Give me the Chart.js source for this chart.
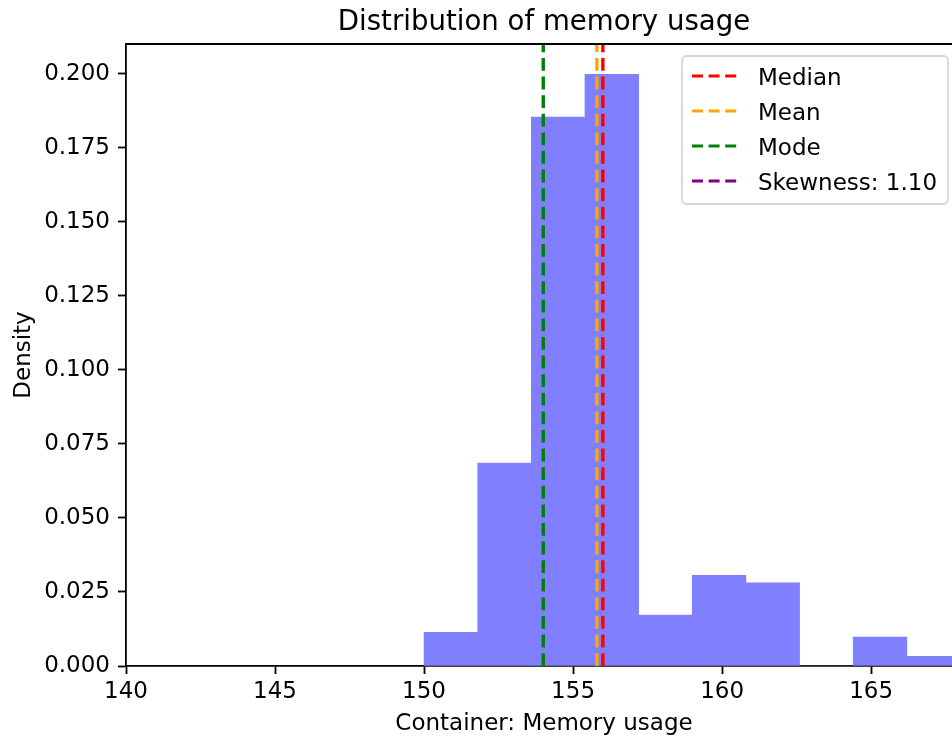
<!DOCTYPE html>
<html>
<head>
<meta charset="utf-8">
<title>Distribution of memory usage</title>
<script src="https://cdn.jsdelivr.net/npm/chart.js@4/dist/chart.umd.min.js"></script>
<style>
  html, body { margin: 0; padding: 0; background: #fff; overflow: hidden; }
  /* the reference is cropped on the right, so the plot runs a little past the window */
  #wrap { width: 962px; height: 740px; position: relative; }
</style>
</head>
<body>
<div id="wrap"><canvas id="histChart"></canvas></div>
<script>
// --- values ---
const binEdges = [150.0, 151.8, 153.6, 155.4, 157.2, 159.0, 160.8, 162.6, 164.4, 166.2, 168.0];
const densities = [0.0114, 0.0685, 0.1853, 0.1998, 0.0172, 0.0306, 0.0281, 0.0, 0.0098, 0.0033];

const statLabels = ["Median", "Mean", "Mode", "Skewness: 1.10"];
const statValues = [156.0, 155.8, 154.0, 1.10];
const statColors = ["red", "orange", "green", "purple"];

const xTicks = [140, 145, 150, 155, 160, 165];
const yTicks = [0, 0.025, 0.05, 0.075, 0.1, 0.125, 0.15, 0.175, 0.2];
const xRange = [140, 168.05];
const yRange = [0, 0.21];

const FONT = '"DejaVu Sans", "Liberation Sans", sans-serif';
Chart.defaults.font.family = FONT;
Chart.defaults.color = "#000";

// histogram bars sit at the centre of each bin
const histPoints = densities.map((d, i) => ({ x: (binEdges[i] + binEdges[i + 1]) / 2, y: d }));

const statDatasets = statLabels.map((label, i) => ({
  type: "line",
  label: label,
  data: [{ x: statValues[i], y: yRange[0] }, { x: statValues[i], y: yRange[1] }],
  borderColor: statColors[i],
  borderWidth: 3.4,
  borderDash: [12.8, 5.8],
  pointRadius: 0,
  fill: false,
  tension: 0,
  order: 0
}));

// title, top spine and the boxed legend, drawn the matplotlib way
const framePlugin = {
  id: "framePlugin",
  afterDraw(chart) {
    const ctx = chart.ctx;
    const ca = chart.chartArea;
    ctx.save();

    // top spine
    ctx.strokeStyle = "#000";
    ctx.lineWidth = 1.8;
    ctx.beginPath();
    ctx.moveTo(ca.left - 0.9, ca.top);
    ctx.lineTo(ca.right + 0.9, ca.top);
    ctx.stroke();

    // title
    ctx.fillStyle = "#000";
    ctx.font = "27.6px " + FONT;
    ctx.textAlign = "center";
    ctx.textBaseline = "alphabetic";
    ctx.fillText("Distribution of memory usage", (ca.left + ca.right) / 2, 29.5);

    // legend box
    const boxW = 266, boxH = 148;
    const bx = ca.right - 14 - boxW;
    const by = ca.top + 12;
    ctx.beginPath();
    ctx.roundRect(bx, by, boxW, boxH, 4.6);
    ctx.fillStyle = "rgba(255,255,255,0.8)";
    ctx.fill();
    ctx.strokeStyle = "#d6d6d6";
    ctx.lineWidth = 1.8;
    ctx.stroke();

    ctx.font = "23px " + FONT;
    ctx.textAlign = "left";
    statLabels.forEach((label, i) => {
      const cy = by + 20 + i * 35;
      ctx.strokeStyle = statColors[i];
      ctx.lineWidth = 3.2;
      ctx.setLineDash([11, 5.6]);
      ctx.beginPath();
      ctx.moveTo(bx + 10, cy);
      ctx.lineTo(bx + 56.5, cy);
      ctx.stroke();
      ctx.setLineDash([]);
      ctx.fillStyle = "#000";
      ctx.fillText(label, bx + 76, cy + 8.5);
    });

    ctx.restore();
  }
};

new Chart(document.getElementById("histChart"), {
  type: "bar",
  data: {
    datasets: [
      {
        type: "bar",
        label: "hist",
        data: histPoints,
        backgroundColor: "#8080ff",   // blue at alpha 0.5 on white
        borderWidth: 0,
        barPercentage: 1.0,
        categoryPercentage: 1.0,
        grouped: false,
        order: 1
      }
    ].concat(statDatasets)
  },
  options: {
    responsive: true,
    maintainAspectRatio: false,
    animation: false,
    layout: { padding: { top: 44, left: 0, right: 0, bottom: 0 } },
    plugins: {
      legend: { display: false },
      title: { display: false },
      tooltip: { enabled: false }
    },
    scales: {
      x: {
        type: "linear",
        min: xRange[0],
        max: xRange[1],
        offset: false,
        grid: { display: true, offset: false, drawOnChartArea: false, drawTicks: true, tickLength: 8, tickWidth: 1.8, tickColor: "#000" },
        border: { display: true, color: "#000", width: 1.8 },
        ticks: {
          font: { size: 23 },
          color: "#000",
          padding: 4,
          autoSkip: false,
          maxRotation: 0,
          callback: v => String(v)
        },
        title: {
          display: true,
          text: "Container: Memory usage",
          font: { size: 23 },
          color: "#000",
          padding: { top: 0, bottom: 2 }
        },
        afterBuildTicks: s => { s.ticks = xTicks.map(v => ({ value: v })); },
        afterFit: s => { s.height = 74; }
      },
      y: {
        type: "linear",
        min: yRange[0],
        max: yRange[1],
        grid: { display: true, offset: false, drawOnChartArea: false, drawTicks: true, tickLength: 8, tickWidth: 1.8, tickColor: "#000" },
        border: { display: true, color: "#000", width: 1.8 },
        ticks: {
          font: { size: 23 },
          color: "#000",
          padding: 8,
          autoSkip: false,
          includeBounds: false,
          callback: v => Number(v).toFixed(3)
        },
        title: {
          display: true,
          text: "Density",
          font: { size: 23 },
          color: "#000",
          padding: { top: 10, bottom: 0 }
        },
        afterBuildTicks: s => { s.ticks = yTicks.map(v => ({ value: v })); },
        afterFit: s => { s.width = 126; }
      }
    }
  },
  plugins: [framePlugin]
});
</script>
</body>
</html>
